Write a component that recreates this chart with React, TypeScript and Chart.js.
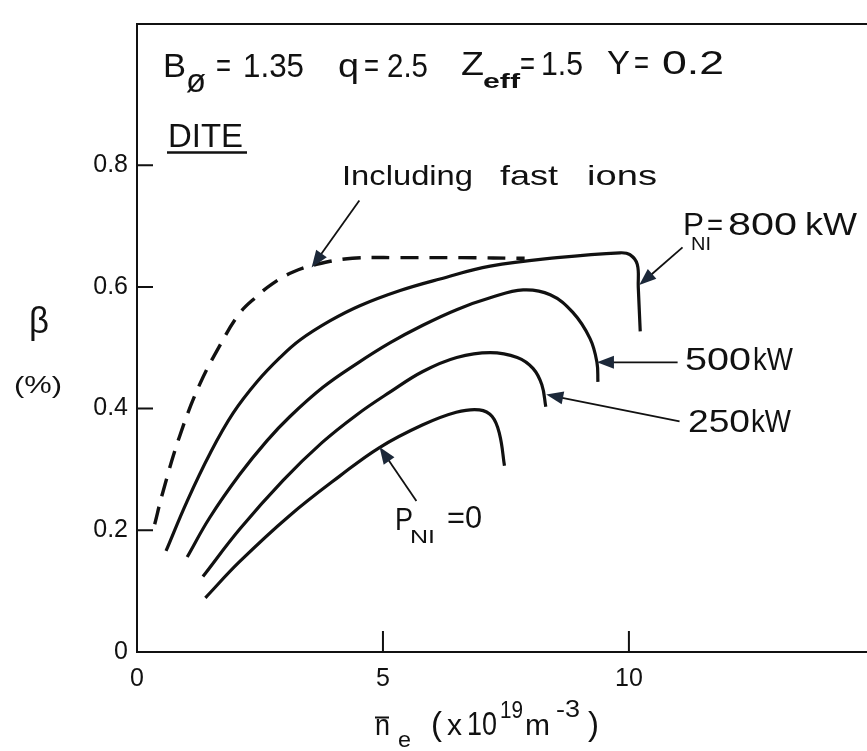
import React, { useEffect, useRef } from "react";
import { Chart, registerables } from "chart.js";

Chart.register(...registerables);

const FAM = '"Liberation Sans", Arial, sans-serif';
const INK = "#111111";
const HEAD = "#1c2839";

// Line-averaged electron density n_e (10^19 m^-3) and beta (%) along each curve
const neFastIons = [0.36, 0.52, 0.86, 1.27, 1.68, 2.08, 2.43, 2.75, 3.16, 3.65, 4.38, 5.34, 6.6, 7.88];
const betaFastIons = [0.21, 0.261, 0.353, 0.439, 0.503, 0.556, 0.584, 0.605, 0.624, 0.637, 0.647, 0.648, 0.648, 0.647];

const ne800 = [0.59, 1.02, 1.49, 1.95, 2.44, 2.91, 3.32, 3.92, 4.53, 5.35, 6.16, 7.18, 8.54, 9.82, 10.02, 10.17, 10.19, 10.23];
const beta800 = [0.166, 0.248, 0.327, 0.392, 0.444, 0.484, 0.513, 0.544, 0.569, 0.594, 0.613, 0.634, 0.648, 0.656, 0.653, 0.637, 0.6, 0.527];

const ne500 = [1.02, 1.48, 2.09, 2.64, 3.11, 3.78, 4.47, 5.14, 5.81, 6.51, 7.18, 7.85, 8.4, 8.86, 9.21, 9.35, 9.37];
const beta500 = [0.156, 0.221, 0.292, 0.347, 0.387, 0.435, 0.474, 0.508, 0.537, 0.563, 0.582, 0.595, 0.587, 0.558, 0.515, 0.476, 0.444];

const ne250 = [1.34, 2.09, 2.97, 3.76, 4.47, 5.14, 5.81, 6.5, 7.18, 7.73, 8.05, 8.23, 8.31];
const beta250 = [0.124, 0.202, 0.282, 0.344, 0.39, 0.427, 0.461, 0.484, 0.492, 0.484, 0.466, 0.439, 0.403];

const ne0 = [1.39, 2.08, 3.1, 4.12, 4.93, 5.8, 6.49, 6.96, 7.22, 7.37, 7.47];
const beta0 = [0.089, 0.148, 0.224, 0.289, 0.336, 0.373, 0.394, 0.398, 0.387, 0.358, 0.306];

const X_TICKS = [0, 5, 10];
const Y_TICKS = [0, 0.2, 0.4, 0.6, 0.8];
const X_MAX = 14.84;
const Y_MAX = 1.032;

// Pointer arrows in data coordinates: [fromX, fromY, tipX, tipY]
const arrows: number[][] = [
  [4.52, 0.742, 3.55, 0.632],
  [11.09, 0.665, 10.21, 0.603],
  [10.99, 0.476, 9.35, 0.476],
  [11.03, 0.379, 8.32, 0.423],
  [5.68, 0.248, 4.93, 0.337],
];

const pts = (xs: number[], ys: number[]) => xs.map((x, i) => ({ x, y: ys[i] }));

function text(
  ctx: CanvasRenderingContext2D,
  s: string,
  x: number,
  y: number,
  size: number,
  w?: number,
  weight = "normal"
) {
  ctx.save();
  ctx.font = `${weight} ${size}px ${FAM}`;
  ctx.textBaseline = "alphabetic";
  ctx.textAlign = "left";
  ctx.fillStyle = INK;
  const m = ctx.measureText(s).width;
  ctx.translate(x, y);
  if (w) ctx.scale(w / m, 1);
  ctx.fillText(s, 0, 0);
  ctx.restore();
}

function rule(ctx: CanvasRenderingContext2D, x0: number, x1: number, y: number, lw: number) {
  ctx.save();
  ctx.strokeStyle = INK;
  ctx.lineWidth = lw;
  ctx.beginPath();
  ctx.moveTo(x0, y);
  ctx.lineTo(x1, y);
  ctx.stroke();
  ctx.restore();
}

function arrow(ctx: CanvasRenderingContext2D, x0: number, y0: number, x1: number, y1: number) {
  const a = Math.atan2(y1 - y0, x1 - x0);
  const L = 17;
  const H = 6.5;
  const bx = x1 - L * Math.cos(a);
  const by = y1 - L * Math.sin(a);
  ctx.save();
  ctx.strokeStyle = INK;
  ctx.lineWidth = 1.8;
  ctx.beginPath();
  ctx.moveTo(x0, y0);
  ctx.lineTo(bx + 2 * Math.cos(a), by + 2 * Math.sin(a));
  ctx.stroke();
  ctx.fillStyle = HEAD;
  ctx.beginPath();
  ctx.moveTo(x1, y1);
  ctx.lineTo(bx - H * Math.sin(a), by + H * Math.cos(a));
  ctx.lineTo(bx + H * Math.sin(a), by - H * Math.cos(a));
  ctx.closePath();
  ctx.fill();
  ctx.restore();
}

const decorations = {
  id: "decorations",
  afterDraw(chart: Chart) {
    const ctx = chart.ctx;
    const { left, right, top, bottom } = chart.chartArea;
    const xs = chart.scales.x;
    const ys = chart.scales.y;

    ctx.save();
    ctx.strokeStyle = INK;
    ctx.lineWidth = 2;
    // top frame
    ctx.beginPath();
    ctx.moveTo(left - 1, top);
    ctx.lineTo(right, top);
    ctx.stroke();
    // inward tick marks
    ctx.beginPath();
    Y_TICKS.filter((v) => v > 0).forEach((v) => {
      const p = ys.getPixelForValue(v);
      ctx.moveTo(left, p);
      ctx.lineTo(left + 16, p);
    });
    X_TICKS.filter((v) => v > 0).forEach((v) => {
      const p = xs.getPixelForValue(v);
      ctx.moveTo(p, bottom);
      ctx.lineTo(p, bottom - 21);
    });
    ctx.stroke();
    ctx.restore();

    arrows.forEach(([fx, fy, tx, ty]) =>
      arrow(ctx, xs.getPixelForValue(fx), ys.getPixelForValue(fy), xs.getPixelForValue(tx), ys.getPixelForValue(ty))
    );

    // parameter line
    text(ctx, "B", 163, 77, 33, 23);
    text(ctx, "ø", 186, 92, 34, 20);
    text(ctx, "=", 216, 77, 33, 15);
    text(ctx, "1.35", 243, 77, 33, 61);
    text(ctx, "q", 338, 77, 33, 21);
    text(ctx, "=", 364, 77, 33, 15);
    text(ctx, "2.5", 387, 77, 33, 41);
    text(ctx, "Z", 461, 75, 33, 23);
    text(ctx, "eff", 483, 88, 21, 37, "bold");
    text(ctx, "=", 520, 75, 33, 15);
    text(ctx, "1.5", 541, 75, 33, 42);
    text(ctx, "Y", 607, 74, 33, 23);
    text(ctx, "=", 634, 74, 33, 15);
    text(ctx, "0.2", 662, 74, 33, 62);

    text(ctx, "DITE", 168, 147, 33, 75);
    rule(ctx, 167, 247, 152.5, 2.5);

    text(ctx, "Including", 342, 185, 28, 131);
    text(ctx, "fast", 500, 185, 28, 58);
    text(ctx, "ions", 587, 185, 28, 70);

    text(ctx, "P", 683, 235, 31, 21);
    text(ctx, "NI", 691, 250, 19, 20);
    text(ctx, "=", 707, 235, 31, 16);
    text(ctx, "800", 728, 235, 31, 69);
    text(ctx, "kW", 805, 235, 31, 52);
    text(ctx, "500", 685, 370, 31, 66);
    text(ctx, "kW", 753, 370, 31, 40);
    text(ctx, "250", 688, 432, 31, 62);
    text(ctx, "kW", 751, 432, 31, 40);
    text(ctx, "P", 395, 530, 31, 18);
    text(ctx, "NI", 410, 543, 19, 25);
    text(ctx, "=0", 447, 528, 31, 35);

    // axis titles
    text(ctx, "β", 29, 333, 36, 20);
    text(ctx, "(%)", 14, 393, 24, 48);

    text(ctx, "n", 375, 735, 30, 15);
    rule(ctx, 375, 389, 717.5, 2);
    text(ctx, "e", 398, 747, 22, 13);
    text(ctx, "(", 431, 735, 33);
    text(ctx, "x", 447, 735, 30, 15);
    text(ctx, "10", 467, 735, 34, 30);
    text(ctx, "19", 500, 718, 24, 23);
    text(ctx, "m", 525, 735, 30, 25);
    text(ctx, "-3", 556, 717, 24, 24);
    text(ctx, ")", 588, 735, 33);
  },
};

const lineStyle = {
  borderColor: INK,
  borderWidth: 3.2,
  pointRadius: 0,
  fill: false,
  tension: 0.4,
  clip: false as const,
};

export default function App() {
  const ref = useRef<HTMLCanvasElement>(null);

  useEffect(() => {
    const canvas = ref.current;
    if (!canvas) return;
    const chart = new Chart(canvas, {
      type: "line",
      data: {
        datasets: [
          { ...lineStyle, label: "Including fast ions", data: pts(neFastIons, betaFastIons), borderDash: [18, 11], borderWidth: 3.4 },
          { ...lineStyle, label: "800 kW", data: pts(ne800, beta800) },
          { ...lineStyle, label: "500 kW", data: pts(ne500, beta500) },
          { ...lineStyle, label: "250 kW", data: pts(ne250, beta250) },
          { ...lineStyle, label: "0", data: pts(ne0, beta0) },
        ],
      },
      options: {
        animation: false,
        responsive: false,
        maintainAspectRatio: false,
        layout: { padding: { top: 12, right: 0, left: 0, bottom: 0 } },
        plugins: { legend: { display: false }, tooltip: { enabled: false } },
        scales: {
          x: {
            type: "linear",
            min: 0,
            max: X_MAX,
            grid: { display: false, drawTicks: false },
            border: { display: true, color: INK, width: 2 },
            ticks: {
              color: INK,
              font: { family: FAM, size: 25 },
              padding: 12,
              maxRotation: 0,
              callback: (v: any) => String(v),
            },
            afterBuildTicks: (s: any) => {
              s.ticks = X_TICKS.map((value) => ({ value }));
            },
            afterFit: (s: any) => {
              s.height = 99;
            },
          },
          y: {
            type: "linear",
            min: 0,
            max: Y_MAX,
            grid: { display: false, drawTicks: false },
            border: { display: true, color: INK, width: 2 },
            ticks: {
              color: INK,
              font: { family: FAM, size: 25 },
              padding: 9,
              callback: (v: any) => (v === 0 ? "0" : Number(v).toFixed(1)),
            },
            afterBuildTicks: (s: any) => {
              s.ticks = Y_TICKS.map((value) => ({ value }));
            },
            afterFit: (s: any) => {
              s.width = 137;
            },
          },
        },
      },
      plugins: [decorations],
    });
    return () => chart.destroy();
  }, []);

  return (
    <canvas
      ref={ref}
      width={867}
      height={751}
      style={{ position: "fixed", left: 0, top: 0, width: 867, height: 751, background: "#fff" }}
    />
  );
}
